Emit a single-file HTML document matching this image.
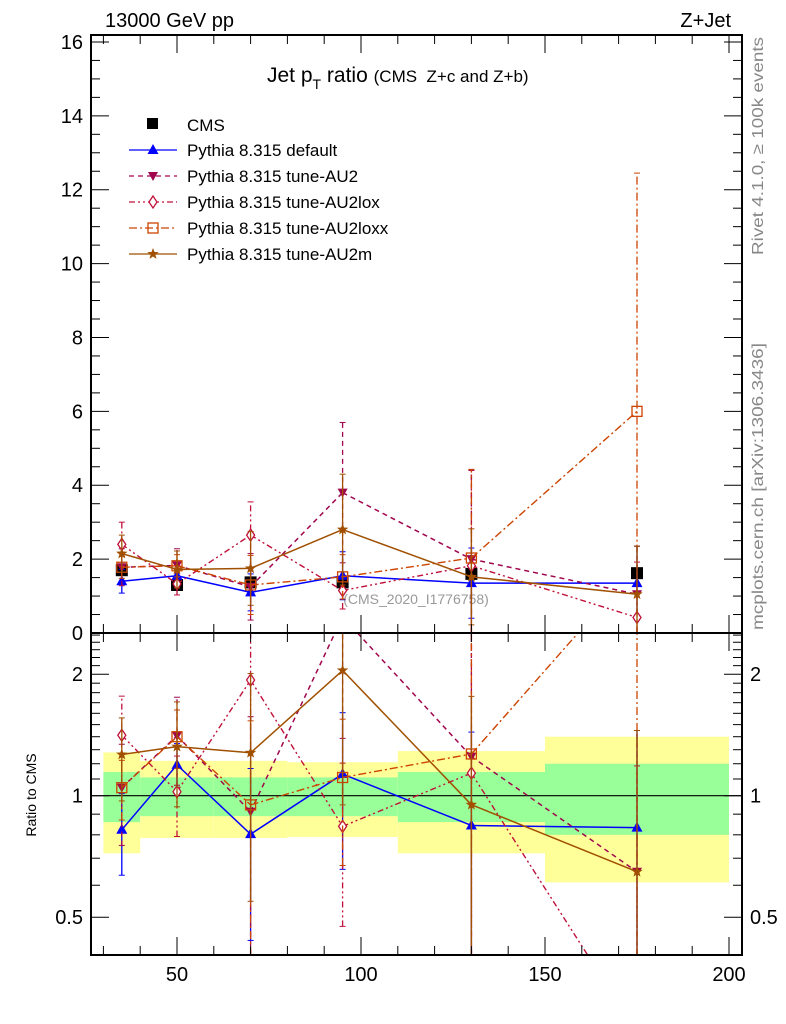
<!DOCTYPE html>
<html><head><meta charset="utf-8">
<style>
html,body{margin:0;padding:0;background:#fff;overflow:hidden;width:786px;height:1024px;}
svg{display:block;font-family:"Liberation Sans",sans-serif;}
</style></head>
<body>
<svg id="chart" width="786" height="1024" viewBox="0 0 786 1024" xmlns="http://www.w3.org/2000/svg">
<text x="105" y="27" font-size="20">13000 GeV pp</text>
<text x="731" y="27" font-size="20" text-anchor="end">Z+Jet</text>
<text x="267" y="82" font-size="21" xml:space="preserve">Jet p<tspan font-size="14" dy="7">T</tspan><tspan dy="-7"> ratio </tspan><tspan font-size="17">(CMS  Z+c and Z+b)</tspan></text>
<text transform="translate(763,255) rotate(-90)" font-size="16" textLength="218" lengthAdjust="spacingAndGlyphs" fill="#888">Rivet 4.1.0, ≥ 100k events</text>
<text transform="translate(763,630) rotate(-90)" font-size="16" textLength="287" lengthAdjust="spacingAndGlyphs" fill="#888">mcplots.cern.ch [arXiv:1306.3436]</text>
<text transform="translate(36,795) rotate(-90)" font-size="14" text-anchor="middle">Ratio to CMS</text>
<text x="416" y="604" font-size="14" fill="#999" text-anchor="middle">(CMS_2020_I1776758)</text>
<g id="g"></g>
</svg>
<script>
const xs = [35, 50, 70, 95, 130, 175];
const binLo = [30, 40, 60, 80, 110, 150];
const binHi = [40, 60, 80, 110, 150, 200];
const cmsVals = [1.7, 1.3, 1.37, 1.37, 1.6, 1.62];
const band1Up = [1.145, 1.11, 1.11, 1.11, 1.145, 1.2];
const band1Dn = [0.86, 0.89, 0.89, 0.89, 0.86, 0.80];
const band2Up = [1.28, 1.22, 1.22, 1.21, 1.29, 1.4];
const band2Dn = [0.72, 0.786, 0.786, 0.79, 0.72, 0.61];
const defVals = [1.4, 1.55, 1.1, 1.55, 1.35, 1.35];
const defErr = [0.32, 0.2, 0.5, 0.65, 0.95, 1.0];
const au2Vals = [1.78, 1.83, 1.25, 3.8, 2.0, 1.05];
const au2Err = [0.5, 0.45, 0.9, 1.9, 2.4, 1.3];
const loxVals = [2.4, 1.33, 2.65, 1.15, 1.82, 0.42];
const loxErr = [0.6, 0.3, 0.9, 0.5, 2.6, 1.5];
const loxxVals = [1.78, 1.82, 1.3, 1.52, 2.03, 6.0];
const loxxErr = [0.3, 0.3, 0.8, 0.6, 2.4, 6.45];
const au2mVals = [2.15, 1.72, 1.75, 2.8, 1.52, 1.05];
const au2mErr = [0.5, 0.5, 1.0, 1.5, 1.3, 1.3];
const mainTicks = [0, 2, 4, 6, 8, 10, 12, 14, 16];
const ratioTicks = [0.5, 1, 2];
const xTicks = [50, 100, 150, 200];

const NS = "http://www.w3.org/2000/svg";
const g = document.getElementById('g');
const L = 91, R = 742, MT = 35, MB = 633, RB = 955;
function X(v){ return 177 + (v - 50) * 3.68; }
function YM(v){ return 633 - v * 36.94; }
function YR(r){ return 795.7 - Math.log2(r) * 121.5; }
function mk(tag, attrs, parent){
  const e = document.createElementNS(NS, tag);
  for (const k in attrs) e.setAttribute(k, attrs[k]);
  (parent || g).appendChild(e);
  return e;
}
function cl(v, a, b){ return Math.max(a, Math.min(b, v)); }
// clip a polyline (array of [x,y]) to y range, returning list of segments
function clipSegs(pts, y0, y1){
  const out = [];
  for (let i = 0; i < pts.length - 1; i++) {
    let [xa, ya] = pts[i], [xb, yb] = pts[i+1];
    if ((ya < y0 && yb < y0) || (ya > y1 && yb > y1)) continue;
    const f = t => [xa + (xb-xa)*t, ya + (yb-ya)*t];
    let t0 = 0, t1 = 1;
    if (yb !== ya) {
      const ta = (y0 - ya)/(yb - ya), tb = (y1 - ya)/(yb - ya);
      t0 = Math.max(0, Math.min(ta, tb)); t1 = Math.min(1, Math.max(ta, tb));
    }
    if (t1 <= t0) continue;
    out.push([f(t0), f(t1)]);
  }
  return out;
}
function inside(y, y0, y1){ return y >= y0 - 6 && y <= y1 + 6; }

for (let i = 0; i < xs.length; i++) {
  const y2 = mk('rect', {x:X(binLo[i]), y:YR(band2Up[i]), width:X(binHi[i])-X(binLo[i]), height:YR(band2Dn[i])-YR(band2Up[i]), fill:'#ffff99'});
  
  
  const y1 = mk('rect', {x:X(binLo[i]), y:YR(band1Up[i]), width:X(binHi[i])-X(binLo[i]), height:YR(band1Dn[i])-YR(band1Up[i]), fill:'#99ff99'});
  
  
}
const ref = mk('line', {x1:L, x2:R, y1:YR(1), y2:YR(1), stroke:'#000', 'stroke-width':1.2});



for (let i = 0; i < xs.length; i++) {
  const s = mk('rect', {x:X(xs[i])-6, y:YM(cmsVals[i])-6, width:12, height:12, fill:'#000'});
  
  
}

function marker(type, x, y, col, parent){
  let e;
  if (type === 'up') e = mk('polygon', {points:`${x},${y-6} ${x-5.5},${y+4} ${x+5.5},${y+4}`, fill:col}, parent);
  else if (type === 'down') e = mk('polygon', {points:`${x},${y+5} ${x-5},${y-4} ${x+5},${y-4}`, fill:col}, parent);
  else if (type === 'diamond') e = mk('polygon', {points:`${x},${y-6} ${x-4},${y} ${x},${y+6} ${x+4},${y}`, fill:'#fff', stroke:col, 'stroke-width':1.3}, parent);
  else if (type === 'square') e = mk('rect', {x:x-5, y:y-5, width:10, height:10, fill:'none', stroke:col, 'stroke-width':1.3}, parent);
  else {
    let p = '';
    for (let k = 0; k < 10; k++) { const a = -Math.PI/2 + k*Math.PI/5; const r = k%2 ? 2.5 : 6; p += (x + r*Math.cos(a)) + ',' + (y + r*Math.sin(a)) + ' '; }
    e = mk('polygon', {points:p, fill:col}, parent);
  }
  return e;
}

const series = [
  {name:'default', vals:defVals, err:defErr, col:'#0000ff', dash:'', mk:'up', w:1.5},
  {name:'tune-AU2', vals:au2Vals, err:au2Err, col:'#a0064e', dash:'5,4', mk:'down', w:1.5},
  {name:'tune-AU2lox', vals:loxVals, err:loxErr, col:'#c0103a', dash:'6,3,2,3,2,3', mk:'diamond', w:1.4},
  {name:'tune-AU2loxx', vals:loxxVals, err:loxxErr, col:'#cc4400', dash:'8,3,2,3', mk:'square', w:1.4},
  {name:'tune-AU2m', vals:au2mVals, err:au2mErr, col:'#a05000', dash:'', mk:'star', w:1.5}
];
series.forEach(s => {
  const gm = mk('g', {'clip-path':'url(#cm)'});
  
  
  const gr = mk('g', {});
  
  
  const la = {fill:'none', stroke:s.col, 'stroke-width':s.w};
  if (s.dash) la['stroke-dasharray'] = s.dash;
  const pm = xs.map((x,i) => [X(x), YM(s.vals[i])]);
  const pr = xs.map((x,i) => [X(x), YR(s.vals[i]/cmsVals[i])]);
  clipSegs(pm, MT, MB).forEach(sg => mk('line', Object.assign({x1:sg[0][0], y1:sg[0][1], x2:sg[1][0], y2:sg[1][1]}, la), gm));
  clipSegs(pr, MB, RB).forEach(sg => mk('line', Object.assign({x1:sg[0][0], y1:sg[0][1], x2:sg[1][0], y2:sg[1][1]}, la), gr));
  for (let i = 0; i < xs.length; i++) {
    const x = X(xs[i]);
    const lo = Math.max(s.vals[i]-s.err[i], 0.01), hi = s.vals[i]+s.err[i];
    const ea = {stroke:s.col, 'stroke-width':1.3};
    if (s.dash) ea['stroke-dasharray'] = s.dash;
    const ml = YM(lo), mh = YM(hi);
    mk('line', Object.assign({x1:x, x2:x, y1:cl(ml,MT,MB), y2:cl(mh,MT,MB)}, ea), gm);
    if (inside(ml,MT,MB)) mk('line', {x1:x-3, x2:x+3, y1:ml, y2:ml, stroke:s.col}, gm);
    if (inside(mh,MT,MB)) mk('line', {x1:x-3, x2:x+3, y1:mh, y2:mh, stroke:s.col}, gm);
    const rl = YR(lo/cmsVals[i]), rh = YR(hi/cmsVals[i]);
    if (!(rl < MB && rh < MB) && !(rl > RB && rh > RB))
      mk('line', Object.assign({x1:x, x2:x, y1:cl(rl,MB,RB), y2:cl(rh,MB,RB)}, ea), gr);
    if (rl > MB && rl < RB) mk('line', {x1:x-3, x2:x+3, y1:rl, y2:rl, stroke:s.col}, gr);
    if (rh > MB && rh < RB) mk('line', {x1:x-3, x2:x+3, y1:rh, y2:rh, stroke:s.col}, gr);
    const ym = YM(s.vals[i]);
    if (inside(ym, MT, MB)) {
      const m1 = marker(s.mk, x, ym, s.col, gm);
      
      
    }
    const yr = YR(s.vals[i]/cmsVals[i]);
    if (yr > MB && yr < RB) {
      const m2 = marker(s.mk, x, yr, s.col, gr);
      
      
    }
  }
});

const f1 = mk('rect', {x:L, y:MT, width:R-L, height:MB-MT, fill:'none', stroke:'#000', 'stroke-width':2});


const f2 = mk('rect', {x:L, y:MB, width:R-L, height:RB-MB, fill:'none', stroke:'#000', 'stroke-width':2});



for (let v = 0; v <= 16.01; v += 0.5) {
  const y = YM(v), big = Math.abs(v/2 - Math.round(v/2)) < 1e-6;
  const len = big ? 18 : 9;
  mk('line', {x1:L, x2:L+len, y1:y, y2:y, stroke:'#000'});
  mk('line', {x1:R, x2:R-len, y1:y, y2:y, stroke:'#000'});
}
mainTicks.forEach(v => {
  const t = mk('text', {x:L-8, y:YM(v)+7, 'font-size':20, 'text-anchor':'end'});
  t.textContent = v;
  
  
});
const rminor = [0.4,0.5,0.6,0.7,0.8,0.9,1,1.1,1.2,1.3,1.4,1.5,1.6,1.7,1.8,1.9,2,2.1,2.2,2.3,2.4,2.5];
rminor.forEach(v => {
  const y = YR(v); if (y < MB || y > RB) return;
  const big = ratioTicks.indexOf(v) >= 0; const len = big ? 18 : 9;
  mk('line', {x1:L, x2:L+len, y1:y, y2:y, stroke:'#000'});
  mk('line', {x1:R, x2:R-len, y1:y, y2:y, stroke:'#000'});
});
ratioTicks.forEach(v => {
  const t = mk('text', {x:L-8, y:YR(v)+7, 'font-size':20, 'text-anchor':'end'});
  t.textContent = v;
  
  
  const t2 = mk('text', {x:R+8, y:YR(v)+7, 'font-size':20});
  t2.textContent = v;
  
  
});
for (let v = 30; v <= 200; v += 10) {
  const x = X(v), big = v % 50 === 0, len = big ? 18 : 9;
  mk('line', {x1:x, x2:x, y1:MB, y2:MB-len, stroke:'#000'});
  mk('line', {x1:x, x2:x, y1:MB, y2:MB+len, stroke:'#000'});
  mk('line', {x1:x, x2:x, y1:RB, y2:RB-len, stroke:'#000'});
  mk('line', {x1:x, x2:x, y1:MT, y2:MT+len, stroke:'#000'});
}
xTicks.forEach(v => {
  const t = mk('text', {x:X(v), y:RB+26, 'font-size':20, 'text-anchor':'middle'});
  t.textContent = v;
  
  
});

const leg = mk('g', {});


mk('rect', {x:147, y:118, width:11, height:11, fill:'#000'}, leg);
const lt = mk('text', {x:187, y:131, 'font-size':17}, leg); lt.textContent = 'CMS';


series.forEach((s,i) => {
  const y = 150 + i*26;
  const la = {x1:129, x2:177, y1:y, y2:y, stroke:s.col, 'stroke-width':1.3};
  if (s.dash) la['stroke-dasharray'] = s.dash;
  mk('line', la, leg);
  marker(s.mk, 153, y, s.col, leg);
  const t = mk('text', {x:187, y:y+6, 'font-size':17}, leg);
  t.textContent = 'Pythia 8.315 ' + s.name;
  
  
});
</script>
</body></html>
